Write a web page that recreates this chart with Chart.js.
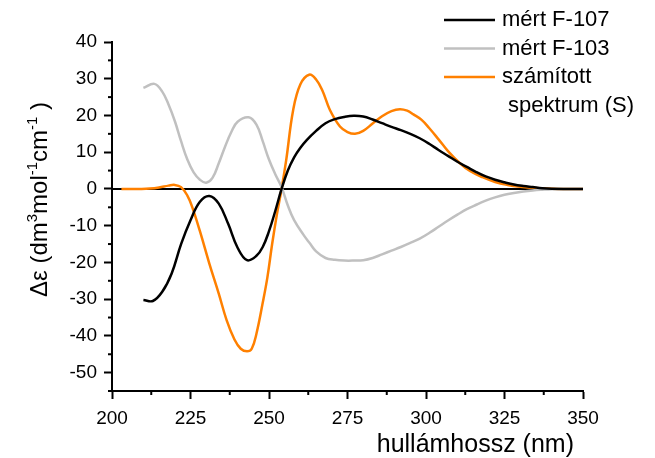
<!DOCTYPE html>
<html lang="hu">
<head>
  <meta charset="UTF-8">
  <title>CD spektrum</title>
  <script src="https://cdn.jsdelivr.net/npm/chart.js"></script>
  <style>
    html, body { margin: 0; padding: 0; background: #fff; }
    #wrap { width: 655px; height: 458px; }
  </style>
</head>
<body>
  <div id="wrap"><canvas id="cd" width="655" height="458"></canvas></div>

  <script>
    // mért F-107 (fekete)
    const f107X = [210, 213, 216, 219, 222, 225, 228, 231, 234, 237, 240, 243, 246, 248, 250, 252, 254, 256, 258, 260, 262, 265, 268, 271, 274, 277, 280, 283, 286, 289, 292, 295, 298, 301, 304, 307, 310, 313, 316, 319, 322, 325, 328, 331, 334, 337, 340, 345, 350];
    const f107Y = [-30.2, -30.5, -28, -23, -15, -8.5, -3.5, -1.9, -4, -9.5, -16, -19.4, -18.2, -15.8, -11.5, -6, 0, 5, 8.6, 11.2, 13.3, 15.8, 17.9, 19.0, 19.6, 19.9, 19.7, 18.9, 17.9, 16.9, 16, 15, 13.8, 12.3, 10.6, 9, 7.4, 6, 4.6, 3.4, 2.5, 1.8, 1.2, 0.8, 0.5, 0.2, 0.05, 0, 0];

    // mért F-103 (szürke)
    const f103X = [210, 213.5, 216, 218, 220, 222, 224, 226, 228, 230, 232, 234, 236, 238, 240, 243.5, 246, 248, 250, 252, 254, 256, 258, 261, 263, 265, 268, 271, 274, 277, 280, 283, 286, 289, 292, 295, 298, 301, 304, 307, 310, 313, 316, 319, 322, 325, 328, 331, 334, 337, 340, 345, 350];
    const f103Y = [27.5, 28.6, 26.5, 23, 18.5, 13, 8, 4.5, 2.5, 1.7, 3, 7, 11.5, 15.5, 18.3, 19.5, 17.5, 13, 8, 4, 0.5, -4.5, -8.5, -12.5, -14.8, -17, -18.8, -19.3, -19.5, -19.5, -19.4, -18.8, -17.8, -16.8, -15.8, -14.7, -13.5, -12, -10.3, -8.6, -7, -5.5, -4.3, -3.2, -2.3, -1.6, -1.1, -0.7, -0.4, -0.2, -0.05, 0, 0];

    // számított spektrum (narancs)
    const szamX = [203, 206, 209, 212, 215, 218, 220, 222, 224, 225.5, 228, 231, 234, 236.5, 239, 241, 243, 244.5, 246, 248, 249.5, 251, 252.5, 254, 255.5, 257.7, 260, 262.8, 265, 267, 269.4, 272.6, 275, 277.4, 280, 283, 286, 289, 291.7, 294, 296, 298.6, 301, 304, 307, 310.8, 314, 318, 322, 326, 330, 334, 338, 342, 350];
    const szamY = [0, 0, 0, 0.1, 0.4, 0.9, 1.1, 0.5, -1.8, -4.8, -11.5, -20.3, -28.5, -35.7, -41, -43.5, -44.2, -43.5, -39.4, -31, -24, -15, -7, 0, 8, 21.5, 28.5, 31.1, 29.8, 26.8, 21.5, 17, 15.5, 15, 15.8, 17.8, 19.8, 21.2, 21.7, 21.3, 20.3, 18.8, 16.6, 13.5, 10.3, 7, 4.9, 3.2, 1.9, 1.1, 0.6, 0.3, 0.1, 0, 0];

    // nulla vonal
    const zeroX = [200, 350];
    const zeroY = [0, 0];

    const xTicks = [200, 225, 250, 275, 300, 325, 350];
    const yTicks = [-50, -40, -30, -20, -10, 0, 10, 20, 30, 40];

    const pts = (xs, ys) => xs.map((x, i) => ({ x: x, y: ys[i] }));

    // jelmagyarázat, kis osztások és tengelyfeliratok rajzolása
    const extras = {
      id: 'extras',
      afterDraw(chart) {
        const ctx = chart.ctx;
        const xs = chart.scales.x, ys = chart.scales.y;
        ctx.save();
        ctx.strokeStyle = '#000';
        ctx.lineWidth = 2;
        // kis osztások
        for (let v = 212.5; v < 350; v += 25) {
          const px = xs.getPixelForValue(v);
          ctx.beginPath();
          ctx.moveTo(px, ys.bottom);
          ctx.lineTo(px, ys.bottom + 4);
          ctx.stroke();
        }
        for (let v = -55; v < 40; v += 10) {
          const py = ys.getPixelForValue(v);
          ctx.beginPath();
          ctx.moveTo(xs.left, py);
          ctx.lineTo(xs.left - 4, py);
          ctx.stroke();
        }

        // jelmagyarázat
        ctx.font = '22px "Liberation Sans", Arial, sans-serif';
        ctx.textBaseline = 'middle';
        ctx.fillStyle = '#000';
        let y = 20;
        chart.data.datasets.forEach(ds => {
          if (!ds.label) return;
          ctx.strokeStyle = ds.borderColor;
          ctx.lineWidth = 2.5;
          ctx.beginPath();
          ctx.moveTo(444, y);
          ctx.lineTo(495, y);
          ctx.stroke();
          ds.label.split('\n').forEach(line => {
            ctx.fillText(line, 502, y);
            y += 28.5;
          });
        });

        // x tengely címe
        ctx.font = '25px "Liberation Sans", Arial, sans-serif';
        ctx.textBaseline = 'alphabetic';
        ctx.textAlign = 'right';
        ctx.fillText('hullámhossz (nm)', 574, 452);

        // y tengely címe felső indexekkel
        ctx.translate(47, 297);
        ctx.rotate(-Math.PI / 2);
        ctx.textAlign = 'left';
        const big = '24px "Liberation Sans", Arial, sans-serif';
        const small = '15px "Liberation Sans", Arial, sans-serif';
        const parts = [
          ['Δε (dm', big, 0], ['3', small, -10], ['mol', big, 0], ['-1', small, -10],
          ['cm', big, 0], ['-1', small, -10], [' )', big, 0]
        ];
        let x = 0;
        parts.forEach(([t, f, dy]) => {
          ctx.font = f;
          ctx.fillText(t, x, dy);
          x += ctx.measureText(t).width;
        });
        ctx.restore();
      }
    };

    new Chart(document.getElementById('cd'), {
      type: 'line',
      data: {
        datasets: [
          { label: 'mért F-107', data: pts(f107X, f107Y), borderColor: '#000000' },
          { label: 'mért F-103', data: pts(f103X, f103Y), borderColor: '#c0c0c0' },
          { label: 'számított\n spektrum (S)', data: pts(szamX, szamY), borderColor: '#ff8000' },
          { label: '', data: pts(zeroX, zeroY), borderColor: '#000000', borderWidth: 2, order: 10 }
        ]
      },
      options: {
        responsive: false,
        animation: false,
        layout: { padding: { top: 42, right: 72, left: 0, bottom: 0 } },
        elements: {
          point: { radius: 0 },
          line: { borderWidth: 2.5, tension: 0.4, fill: false }
        },
        plugins: {
          legend: { display: false },
          tooltip: { enabled: false }
        },
        scales: {
          x: {
            type: 'linear',
            min: 200,
            max: 350,
            afterFit: s => { s.height = 67; },
            afterBuildTicks: s => { s.ticks = xTicks.map(v => ({ value: v })); },
            grid: { display: true, drawOnChartArea: false, tickLength: 8, tickWidth: 2, tickColor: '#000' },
            border: { color: '#000', width: 2 },
            ticks: { color: '#000', padding: 8, font: { family: '"Liberation Sans", Arial', size: 19 } }
          },
          y: {
            min: -55,
            max: 40,
            afterFit: s => { s.width = 112; },
            afterBuildTicks: s => { s.ticks = yTicks.map(v => ({ value: v })); },
            grid: { display: true, drawOnChartArea: false, tickLength: 8, tickWidth: 2, tickColor: '#000' },
            border: { color: '#000', width: 2 },
            ticks: { color: '#000', padding: 7, font: { family: '"Liberation Sans", Arial', size: 19 } }
          }
        }
      },
      plugins: [extras]
    });
  </script>
</body>
</html>
